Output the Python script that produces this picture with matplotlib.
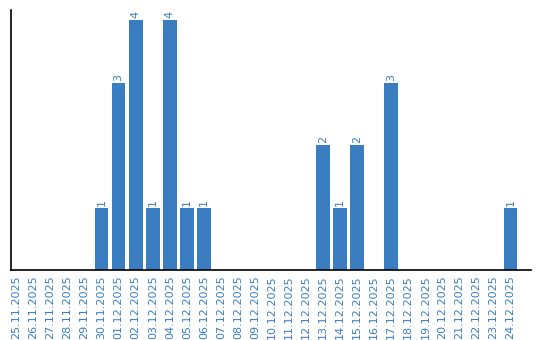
import numpy as np
import matplotlib
matplotlib.use("Agg")
import matplotlib.pyplot as plt

dates = ["25.11.2025", "26.11.2025", "27.11.2025", "28.11.2025", "29.11.2025",
         "30.11.2025", "01.12.2025", "02.12.2025", "03.12.2025", "04.12.2025",
         "05.12.2025", "06.12.2025", "07.12.2025", "08.12.2025", "09.12.2025",
         "10.12.2025", "11.12.2025", "12.12.2025", "13.12.2025", "14.12.2025",
         "15.12.2025", "16.12.2025", "17.12.2025", "18.12.2025", "19.12.2025",
         "20.12.2025", "21.12.2025", "22.12.2025", "23.12.2025", "24.12.2025"]
counts = [0, 0, 0, 0, 0, 1, 3, 4, 1, 4, 1, 1, 0, 0, 0,
          0, 0, 0, 2, 1, 2, 0, 3, 0, 0, 0, 0, 0, 0, 1]

blue = "#3b7dc1"

fig = plt.figure(figsize=(5.4, 3.4), dpi=100)
ax = fig.add_axes([11 / 540, 70 / 340, 520 / 540, 260 / 340])

x = np.arange(len(dates))
bars = ax.bar(x, counts, width=0.8, color=blue)

for xi, c in zip(x, counts):
    if c > 0:
        ax.text(xi, c + 0.03, str(c), rotation=90, ha="center", va="bottom",
                color=blue, fontsize=8)

ax.set_xticks(x)
ax.set_xticklabels(dates, rotation=90, color=blue, fontsize=8)
ax.tick_params(axis="x", length=0, pad=4)
ax.set_yticks([])
ax.set_xlim(-0.32, 30.2)
ax.set_ylim(0, 4.16)

for side in ["top", "right"]:
    ax.spines[side].set_visible(False)
ax.spines["left"].set_linewidth(1.2)
ax.spines["bottom"].set_linewidth(1.2)

fig.savefig("out.png", dpi=100)
